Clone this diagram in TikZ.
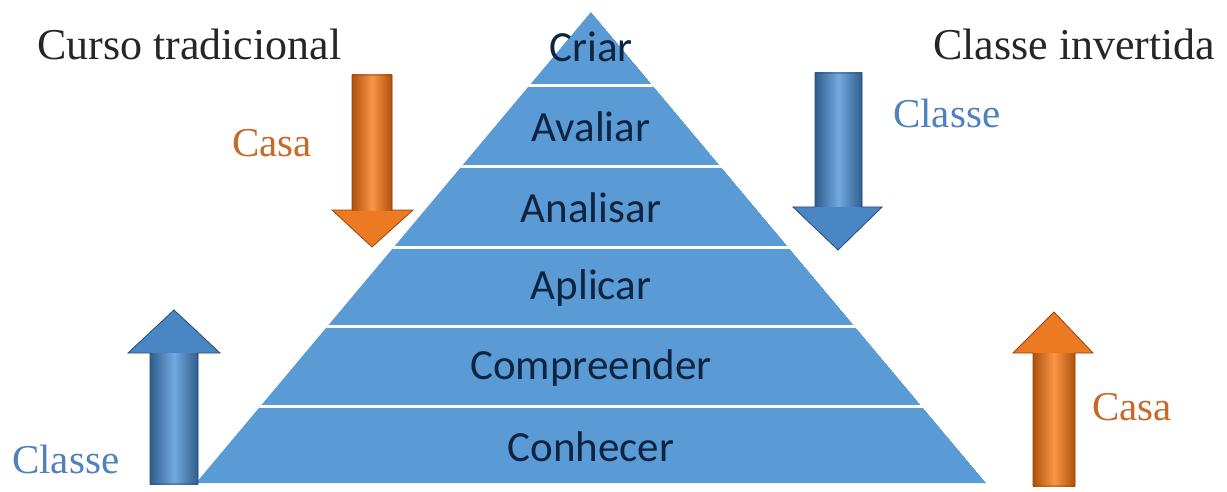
\documentclass[tikz,border=0pt]{standalone}
\usepackage{fontspec}
\setmainfont{Liberation Serif}
\newfontfamily\calfont{Carlito}
\definecolor{pyrblue}{HTML}{5B9BD5}
\definecolor{pyrtext}{HTML}{0E2440}
\definecolor{casaor}{HTML}{C8682A}
\definecolor{classebl}{HTML}{4F81BD}
\definecolor{ardkbl}{HTML}{2F5E8E}
\definecolor{armdbl}{HTML}{4A86C4}
\definecolor{arltbl}{HTML}{72A9DE}
\definecolor{ardkor}{HTML}{B0500C}
\definecolor{armdor}{HTML}{EC7A22}
\definecolor{arltor}{HTML}{F99546}
\tikzset{
  layertext/.style={font=\calfont\fontsize{43}{47}\selectfont, text=pyrtext, inner sep=0pt},
  headtext/.style={font=\fontsize{44}{48}\selectfont, text=black!85, inner sep=0pt, anchor=base west},
  sidetext/.style={font=\fontsize{41}{45}\selectfont, inner sep=0pt, anchor=base west},
  bluebody/.style={fill=armdbl},
  blueshade/.style={left color=ardkbl, right color=ardkbl, middle color=arltbl},
  blueline/.style={draw=ardkbl!80!black, line width=0.8pt},
  orangebody/.style={fill=armdor},
  orangeshade/.style={left color=ardkor, right color=ardkor, middle color=arltor},
  orangeline/.style={draw=ardkor!85!black, line width=0.8pt}
}
\begin{document}
\begin{tikzpicture}[x=1pt,y=-1pt]
\useasboundingbox (0,0) rectangle (1227,492);
% pyramid
\coordinate (apex) at (591,12);
\coordinate (bl) at (196,483);
\coordinate (br) at (986,483);
\begin{scope}
  \clip (apex) -- (br) -- (bl) -- cycle;
  \fill[pyrblue] (apex) -- (br) -- (bl) -- cycle;
  \foreach \yy in {86,167,247,326,406}{
    \draw[white, line width=3pt] (150,\yy) -- (1050,\yy);
  }
\end{scope}
% layer labels
\node[layertext] (criar) at (591,47) {Criar};
\node[layertext] (avaliar) at (591,127) {Avaliar};
\node[layertext] (analisar) at (591,208) {Analisar};
\node[layertext] (aplicar) at (591,288) {Aplicar};
\node[layertext] (compre) at (591,368) {Compreender};
\node[layertext] (conhecer) at (591,447) {Conhecer};
% headings
\node[headtext] (trad) at (37,60) {Curso tradicional};
\node[headtext] (inv) at (933,60) {Classe invertida};
% side labels
\node[sidetext, text=casaor] (casa1) at (232,157) {Casa};
\node[sidetext, text=classebl] (classe1) at (893,128) {Classe};
\node[sidetext, text=classebl] (classe2) at (12,473) {Classe};
\node[sidetext, text=casaor] (casa2) at (1092,420) {Casa};
% arrows: orange down (left)
\fill[orangebody] (352,75) -- (392,75) -- (392,210) -- (413,210) -- (372,247) -- (332,210) -- (352,210) -- cycle;
\shade[orangeshade] (352,75) rectangle (392,210);
\draw[orangeline] (352,75) -- (392,75) -- (392,210) -- (413,210) -- (372,247) -- (332,210) -- (352,210) -- cycle;
% blue down (right)
\fill[bluebody] (815,73) -- (862,73) -- (862,207) -- (882,207) -- (838,250) -- (793,207) -- (815,207) -- cycle;
\shade[blueshade] (815,73) rectangle (862,207);
\draw[blueline] (815,73) -- (862,73) -- (862,207) -- (882,207) -- (838,250) -- (793,207) -- (815,207) -- cycle;
% blue up (left)
\fill[bluebody] (150,484) -- (198,484) -- (198,353) -- (220,353) -- (174,310) -- (128,353) -- (150,353) -- cycle;
\shade[blueshade] (150,484) rectangle (198,353);
\draw[blueline] (150,484) -- (198,484) -- (198,353) -- (220,353) -- (174,310) -- (128,353) -- (150,353) -- cycle;
% orange up (right)
\fill[orangebody] (1033,486) -- (1075,486) -- (1075,353) -- (1093,353) -- (1054,312) -- (1013,353) -- (1033,353) -- cycle;
\shade[orangeshade] (1033,486) rectangle (1075,353);
\draw[orangeline] (1033,486) -- (1075,486) -- (1075,353) -- (1093,353) -- (1054,312) -- (1013,353) -- (1033,353) -- cycle;
\end{tikzpicture}
\end{document}
